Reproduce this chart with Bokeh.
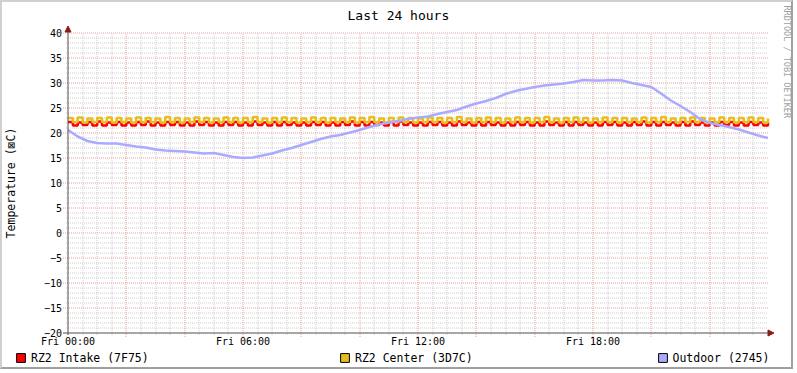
import numpy as np
from bokeh.plotting import figure
from bokeh.models import (Range1d, FixedTicker, Legend, LegendItem, Title, Label,
                          Arrow, NormalHead)
from bokeh.embed import file_html
from bokeh.resources import INLINE

# ---------------- data ----------------
title_text = "Last 24 hours"
y_title = "Temperature (\u22a0C)"
watermark = "RRDTOOL / TOBI OETIKER"
series_names = ["RZ2 Intake (7F75)", "RZ2 Center (3D7C)", "Outdoor (2745)"]
x_tick_hours = [0, 6, 12, 18]
x_tick_labels = ["Fri 00:00", "Fri 06:00", "Fri 12:00", "Fri 18:00"]
y_ticks = [-20, -15, -10, -5, 0, 5, 10, 15, 20, 25, 30, 35, 40]

# outdoor temperature, one sample every 20 minutes from Fri 00:00
outdoor = [20.6, 19.3, 18.4, 18.0, 17.9, 17.9, 17.6, 17.3, 17.1, 16.7,
           16.5, 16.4, 16.3, 16.1, 15.9, 16.0, 15.6, 15.2, 15.0, 15.1,
           15.5, 15.9, 16.5, 17.0, 17.6, 18.2, 18.8, 19.3, 19.6, 20.1,
           20.6, 21.2, 21.7, 22.1, 22.4, 22.8, 23.1, 23.3, 23.8, 24.2,
           24.6, 25.3, 25.9, 26.4, 27.0, 27.8, 28.4, 28.8, 29.2, 29.5,
           29.7, 29.9, 30.2, 30.6, 30.5, 30.5, 30.6, 30.5, 30.0, 29.6,
           29.2, 27.9, 26.5, 25.4, 24.2, 22.8, 22.0, 21.6, 21.2, 20.7,
           20.1, 19.5, 19.0]

# rack sensors, one sample every 10 minutes from Fri 00:00
center = [23.0, 22.2, 23.1, 22.1, 22.9, 22.2, 23.0, 22.2, 23.1, 22.1,
          23.0, 22.2, 22.9, 22.1, 23.1, 22.2, 23.0, 22.2, 22.9, 22.1,
          23.2, 22.2, 23.0, 22.1, 22.9, 22.2, 23.1, 22.2, 23.0, 22.1,
          22.9, 22.2, 23.1, 22.2, 23.0, 22.1, 23.0, 22.2, 23.2, 22.2,
          22.9, 22.1, 23.0, 22.2, 23.1, 22.2, 23.0, 22.1, 22.9, 22.2,
          23.1, 22.2, 23.0, 22.1, 23.0, 22.2, 22.9, 22.2, 23.1, 22.1,
          23.0, 22.2, 23.2, 22.2, 22.9, 22.1, 23.0, 22.2, 23.1, 22.2,
          23.0, 22.1, 22.9, 22.2, 23.1, 22.2, 23.0, 22.1, 23.0, 22.2,
          23.2, 22.2, 22.9, 22.1, 23.0, 22.2, 23.1, 22.2, 23.0, 22.1,
          22.9, 22.2, 23.1, 22.2, 23.0, 22.1, 23.0, 22.2, 23.2, 22.2,
          22.9, 22.1, 23.0, 22.2, 23.1, 22.2, 23.0, 22.1, 22.9, 22.2,
          23.1, 22.2, 23.0, 22.1, 23.0, 22.2, 22.9, 22.2, 23.1, 22.1,
          23.0, 22.2, 23.2, 22.2, 22.9, 22.1, 23.0, 22.2, 23.1, 22.2,
          23.0, 22.1, 22.9, 22.2, 23.1, 22.2, 23.0, 22.1, 23.0, 22.2,
          23.1, 22.2, 23.0, 22.1, 22.9]

intake = [22.2, 21.5, 22.1, 21.6, 22.2, 21.5, 22.3, 21.5, 22.1, 21.6,
          22.2, 21.5, 22.1, 21.5, 22.2, 21.6, 22.3, 21.5, 22.1, 21.5,
          22.2, 21.6, 22.2, 21.5, 22.1, 21.5, 22.3, 21.6, 22.2, 21.5,
          22.1, 21.5, 22.2, 21.6, 22.2, 21.5, 22.1, 21.5, 22.3, 21.6,
          22.1, 21.5, 22.2, 21.5, 22.2, 21.6, 22.1, 21.5, 22.1, 21.5,
          22.2, 21.6, 22.2, 21.5, 22.1, 21.5, 22.2, 21.6, 22.3, 21.5,
          22.2, 21.5, 22.2, 21.6, 22.1, 21.5, 22.2, 21.5, 22.3, 21.6,
          22.1, 21.5, 22.1, 21.5, 22.2, 21.6, 22.2, 21.5, 22.1, 21.5,
          22.3, 21.6, 22.1, 21.5, 22.2, 21.5, 22.2, 21.6, 22.1, 21.5,
          22.1, 21.5, 22.2, 21.6, 22.2, 21.5, 22.1, 21.5, 22.3, 21.6,
          22.1, 21.5, 22.2, 21.5, 22.2, 21.6, 22.1, 21.5, 22.1, 21.5,
          22.2, 21.6, 22.2, 21.5, 22.1, 21.5, 22.2, 21.6, 22.3, 21.5,
          22.2, 21.5, 22.2, 21.6, 22.1, 21.5, 22.2, 21.5, 22.3, 21.6,
          22.1, 21.5, 22.1, 21.5, 22.2, 21.6, 22.2, 21.5, 22.1, 21.5,
          22.2, 21.6, 22.1, 21.5, 22.2]

t_outdoor = np.arange(len(outdoor)) / 3.0   # hours
t_rack = np.arange(len(center)) / 6.0       # hours

# ---------------- style ----------------
FONT = "DejaVu Sans Mono"
C_INTAKE = "#FF0000"
C_CENTER = "#E8BE1E"
C_OUTDOOR = "#AAAAFF"
C_AXIS = "#5A4A4A"
C_ARROW = "#8B1A1A"
PXH = 700.0 / 24.0     # pixels per hour
PXV = 5.0              # pixels per degree
B = 2                  # width of the 3D border (CSS)
X0 = 67.5              # page x of Fri 00:00
Y40 = 32.5             # page y of 40 degrees

W, H = 797 - 2 * B, 373 - 2 * B
FL, FR, FT, FB = B, 780, 25, 373 - B    # frame edges in page pixels
p = figure(width=W, height=H, output_backend="svg", toolbar_location=None,
           x_range=Range1d(-(X0 - FL) / PXH, (FR - X0) / PXH),
           y_range=Range1d(40 - (FB - Y40) / PXV, 40 + (Y40 - FT) / PXV),
           min_border_left=0, min_border_right=797 - B - FR,
           min_border_top=FT - B, min_border_bottom=0)
p.styles = {"border-top": "2px solid #D0D0D0", "border-left": "2px solid #D0D0D0",
            "border-right": "2px solid #A0A0A0", "border-bottom": "2px solid #A0A0A0"}
p.background_fill_color = "white"
p.border_fill_color = "white"
p.outline_line_color = None
p.xgrid.visible = False
p.ygrid.visible = False


def snap(h):
    """move a vertical grid line onto a pixel centre so that it is drawn crisp"""
    return (np.floor(X0 + h * PXH) + 0.5 - X0) / PXH


# grid (RRD style dotted)
minor_h = [v for v in range(-19, 41) if v % 5 != 0]
major_h = [v for v in range(-15, 41, 5)]
minor_v = [snap(k * 0.5) for k in range(1, 48) if (k * 0.5) % 2 != 0]
major_v = [snap(float(h)) for h in range(2, 24, 2)]

GRID_MINOR = dict(line_color="#B8B8B8", line_alpha=0.7, line_width=1, line_dash="1 1")
GRID_MAJOR = dict(line_color="#E05050", line_alpha=0.55, line_width=1, line_dash="1 1")
p.segment(x0=[-2 / PXH] * len(minor_h), x1=[24.0] * len(minor_h), y0=minor_h, y1=minor_h, **GRID_MINOR)
p.segment(x0=minor_v, x1=minor_v, y0=[-20 - 2 / PXV] * len(minor_v), y1=[40] * len(minor_v), **GRID_MINOR)
p.segment(x0=[-5 / PXH] * len(major_h), x1=[24.0] * len(major_h), y0=major_h, y1=major_h, **GRID_MAJOR)
p.segment(x0=major_v, x1=major_v, y0=[-20 - 4 / PXV] * len(major_v), y1=[40] * len(major_v), **GRID_MAJOR)

# data
r_in = p.step(t_rack, intake, mode="after", line_color=C_INTAKE, line_width=2.5)
r_ce = p.step(t_rack, center, mode="after", line_color=C_CENTER, line_width=2.5)
r_out = p.line(t_outdoor, outdoor, line_color=C_OUTDOOR, line_width=2.5)

# axes with arrows
p.add_layout(Arrow(x_start=-5 / PXH, y_start=-20, x_end=24 + 6 / PXH, y_end=-20,
                   line_color=C_AXIS, line_width=1,
                   end=NormalHead(size=6, fill_color=C_ARROW, line_color=C_ARROW, line_width=1)))
p.add_layout(Arrow(x_start=0, y_start=-20 - 2 / PXV, x_end=0, y_end=40 + 7 / PXV,
                   line_color=C_AXIS, line_width=1,
                   end=NormalHead(size=6, fill_color=C_ARROW, line_color=C_ARROW, line_width=1)))

# tick labels: axes pinned at the data origin (inside the frame)
p.xaxis.fixed_location = -20
p.yaxis.fixed_location = 0
p.xaxis.ticker = FixedTicker(ticks=x_tick_hours)
p.xaxis.major_label_overrides = {h: lab for h, lab in zip(x_tick_hours, x_tick_labels)}
p.yaxis.ticker = FixedTicker(ticks=y_ticks)
for ax in (p.xaxis[0], p.yaxis[0]):
    ax.axis_line_color = None
    ax.major_tick_line_color = None
    ax.minor_tick_line_color = None
    ax.major_tick_in = 0
    ax.major_tick_out = 0
    ax.major_label_text_font = FONT
    ax.major_label_text_font_size = "10px"
    ax.major_label_text_color = "black"
p.xaxis.major_label_standoff = 3
p.yaxis.major_label_standoff = 6

# y axis title
p.add_layout(Label(x=(10 - X0) / PXH, y=40 - (182.5 - Y40) / PXV, text=y_title,
                   angle=np.pi / 2, text_align="center", text_baseline="middle",
                   text_font=FONT, text_font_size="11.5px", text_color="black"))

# title (left-aligned with an offset so that it sits at the image centre)
p.title.text = title_text
p.title.align = "left"
p.title.offset = 347 - FL
p.title.text_font = FONT
p.title.text_font_size = "13px"
p.title.text_font_style = "normal"
p.title.text_color = "black"
p.title.standoff = 5

# watermark on the right edge, reading top to bottom
p.add_layout(Title(text=watermark, align="left", offset=5 - FT, vertical_align="middle",
                   text_font=FONT, text_font_size="8.5px", text_font_style="normal",
                   text_color="#A0A0A0", standoff=0), "right")

# legend swatches (not drawn in the plot itself) + three one-item legends at the bottom
nan = [float("nan")]
sw = []
for c in (C_INTAKE, C_CENTER, C_OUTDOOR):
    sw.append(p.quad(left=nan, right=nan, bottom=nan, top=nan,
                     fill_color=c, line_color="black", line_width=1))
for name, r, xl in zip(series_names, sw, (15, 339, 656.5)):
    lg = Legend(items=[LegendItem(label=name, renderers=[r])], location=(xl - FL, FB - 364.5),
                padding=0, margin=0, spacing=0, glyph_width=11, glyph_height=11,
                label_standoff=5, label_height=12, label_text_font=FONT,
                label_text_font_size="11.5px", label_text_color="black",
                border_line_color=None, background_fill_alpha=0)
    p.add_layout(lg)

open("out.html", "w").write(file_html(p, INLINE))
